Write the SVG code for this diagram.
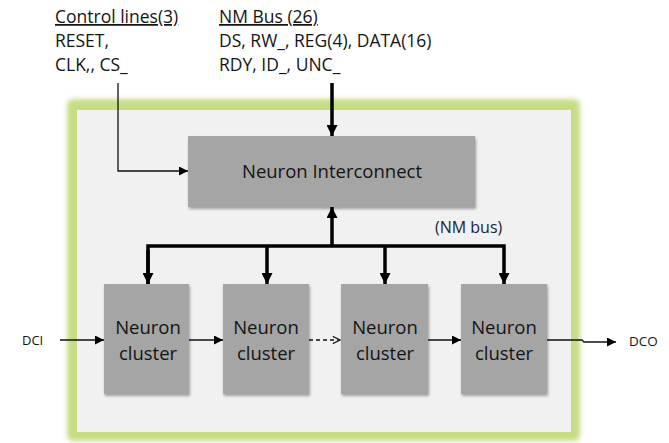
<svg xmlns="http://www.w3.org/2000/svg" width="669" height="443" viewBox="0 0 669 443">
<style>
.t{font-family:"Open Sans","Liberation Sans",sans-serif;fill:#141414}
.hdr{font-size:17.5px}
.box{fill:#a5a5a5}
.bt{font-size:18.5px;text-anchor:middle}
.thin{stroke:#111;stroke-width:1.3;fill:none}
.bus{stroke:#000;stroke-width:3.5;fill:none}
</style>
<defs>
<filter id="glow" x="-10%" y="-10%" width="120%" height="120%"><feGaussianBlur stdDeviation="2.5"/></filter>
<filter id="sh" x="-10%" y="-10%" width="130%" height="130%"><feDropShadow dx="1" dy="2" stdDeviation="1.5" flood-color="#000" flood-opacity="0.35"/></filter>
<marker id="a" viewBox="0 0 10 10" refX="10" refY="5" markerWidth="9" markerHeight="9" markerUnits="userSpaceOnUse" orient="auto"><path d="M0,0 L10,5 L0,10 z" fill="#000"/></marker>
<marker id="ab" viewBox="0 0 10 10" refX="10" refY="5" markerWidth="11" markerHeight="11" markerUnits="userSpaceOnUse" orient="auto"><path d="M0,0 L10,5 L0,10 z" fill="#000"/></marker>
<marker id="ao" viewBox="0 0 10 10" refX="9" refY="5" markerWidth="9" markerHeight="9" markerUnits="userSpaceOnUse" orient="auto"><path d="M1,1 L9,5 L1,9" fill="none" stroke="#222" stroke-width="1.5"/></marker>
</defs>
<g id="frame">
<rect x="67" y="99" width="513" height="342" rx="6" fill="#c6dd85" filter="url(#glow)"/>
<rect x="77" y="110" width="494" height="322" fill="#f1f1f1"/>
</g>
<g id="labels">
<text class="t hdr" x="55" y="23" text-decoration="underline">Control lines(3)</text>
<text class="t hdr" x="55" y="47">RESET,</text>
<text class="t hdr" x="55" y="71">CLK,, CS_</text>
<text class="t hdr" x="219" y="23" text-decoration="underline">NM Bus (26)</text>
<text class="t hdr" x="219" y="47">DS, RW_, REG(4), DATA(16)</text>
<text class="t hdr" x="219" y="71">RDY, ID_, UNC_</text>
<text class="t" x="435" y="233" font-size="16" style="fill:#222238">(NM bus)</text>
<text class="t" x="22" y="345" font-size="13">DCI</text>
<text class="t" x="629" y="346" font-size="13.5">DCO</text>
</g>
<g id="interconnect">
<rect class="box" x="188" y="136" width="287" height="71" filter="url(#sh)"/>
<text class="t bt" x="332" y="178">Neuron Interconnect</text>
</g>
<g id="cluster1">
<rect class="box" x="104" y="284" width="85" height="110" filter="url(#sh)"/>
<text class="t bt" x="148" y="334">Neuron</text>
<text class="t bt" x="148" y="360">cluster</text>
</g>
<g id="cluster2">
<rect class="box" x="223" y="284" width="86" height="110" filter="url(#sh)"/>
<text class="t bt" x="266" y="334">Neuron</text>
<text class="t bt" x="266" y="360">cluster</text>
</g>
<g id="cluster3">
<rect class="box" x="341" y="284" width="87" height="110" filter="url(#sh)"/>
<text class="t bt" x="385" y="334">Neuron</text>
<text class="t bt" x="385" y="360">cluster</text>
</g>
<g id="cluster4">
<rect class="box" x="461" y="284" width="86" height="110" filter="url(#sh)"/>
<text class="t bt" x="504" y="334">Neuron</text>
<text class="t bt" x="504" y="360">cluster</text>
</g>
<g id="connectors">
<path class="thin" d="M118,83 V171 H188" marker-end="url(#a)"/>
<path class="bus" d="M332,83 V136" marker-end="url(#ab)"/>
<path class="bus" d="M332,246 V207" marker-end="url(#ab)"/>
<path class="bus" d="M148,284 V246 H504 V284" marker-end="url(#ab)"/>
<path class="bus" d="M267,246 V284" marker-end="url(#ab)"/>
<path class="bus" d="M385,246 V284" marker-end="url(#ab)"/>
<path class="bus" d="M148,250 V284" marker-end="url(#ab)"/>
<path class="thin" d="M60,340 H104" marker-end="url(#a)"/>
<path class="thin" d="M189,340 H223" marker-end="url(#a)"/>
<path class="thin" d="M309,340 H340" stroke-dasharray="4,3" marker-end="url(#ao)"/>
<path class="thin" d="M428,340 H461" marker-end="url(#a)"/>
<path class="thin" d="M547,340 H582 L584,342 H616" marker-end="url(#a)"/>
</g>
</svg>
